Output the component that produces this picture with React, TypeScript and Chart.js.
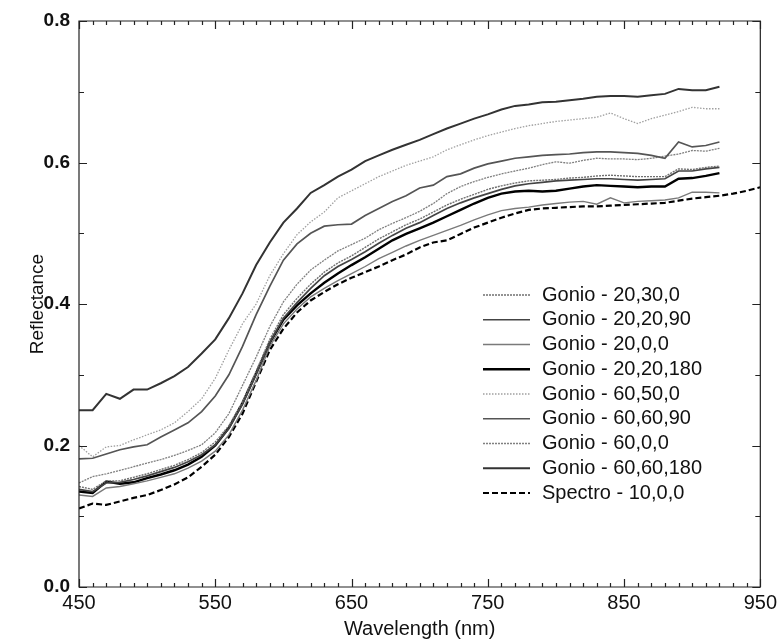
import { useEffect, useRef } from 'react';
import { Chart, registerables } from 'chart.js';

Chart.register(...registerables);

const wavelengths = [450, 460, 470, 480, 490, 500, 510, 520, 530, 540, 550, 560, 570, 580, 590, 600, 610, 620, 630, 640, 650, 660, 670, 680, 690, 700, 710, 720, 730, 740, 750, 760, 770, 780, 790, 800, 810, 820, 830, 840, 850, 860, 870, 880, 890, 900, 910, 920];
const spectroWavelengths = [450, 460, 470, 480, 490, 500, 510, 520, 530, 540, 550, 560, 570, 580, 590, 600, 610, 620, 630, 640, 650, 660, 670, 680, 690, 700, 710, 720, 730, 740, 750, 760, 770, 780, 790, 800, 810, 820, 830, 840, 850, 860, 870, 880, 890, 900, 910, 920, 930, 940, 950];

const xTickValues = [450, 550, 650, 750, 850, 950];
const yTickValues = [0, 0.2, 0.4, 0.6, 0.8];

const gonio20_30_0 = [0.142, 0.138, 0.150, 0.150, 0.155, 0.160, 0.166, 0.172, 0.180, 0.190, 0.205, 0.228, 0.262, 0.305, 0.350, 0.385, 0.408, 0.428, 0.445, 0.458, 0.468, 0.480, 0.492, 0.502, 0.512, 0.520, 0.530, 0.540, 0.548, 0.555, 0.562, 0.567, 0.571, 0.574, 0.575, 0.576, 0.578, 0.579, 0.581, 0.582, 0.581, 0.580, 0.580, 0.580, 0.591, 0.590, 0.593, 0.595];
const gonio20_20_90 = [0.138, 0.135, 0.147, 0.148, 0.152, 0.157, 0.163, 0.169, 0.177, 0.187, 0.201, 0.224, 0.258, 0.300, 0.345, 0.380, 0.402, 0.422, 0.440, 0.453, 0.463, 0.474, 0.486, 0.497, 0.507, 0.515, 0.525, 0.535, 0.543, 0.550, 0.556, 0.562, 0.567, 0.570, 0.572, 0.574, 0.575, 0.576, 0.577, 0.577, 0.576, 0.575, 0.576, 0.577, 0.588, 0.588, 0.591, 0.593];
const gonio20_0_0 = [0.130, 0.128, 0.140, 0.142, 0.146, 0.150, 0.155, 0.160, 0.168, 0.178, 0.192, 0.215, 0.250, 0.292, 0.340, 0.372, 0.393, 0.410, 0.422, 0.433, 0.443, 0.453, 0.464, 0.473, 0.482, 0.490, 0.497, 0.504, 0.511, 0.519, 0.526, 0.532, 0.535, 0.537, 0.540, 0.542, 0.544, 0.545, 0.541, 0.550, 0.543, 0.545, 0.546, 0.547, 0.550, 0.558, 0.558, 0.557];
const gonio20_20_180 = [0.135, 0.133, 0.149, 0.146, 0.148, 0.154, 0.159, 0.165, 0.173, 0.184, 0.200, 0.225, 0.260, 0.302, 0.345, 0.378, 0.398, 0.415, 0.430, 0.443, 0.455, 0.466, 0.478, 0.490, 0.499, 0.507, 0.515, 0.524, 0.533, 0.542, 0.550, 0.556, 0.559, 0.560, 0.559, 0.560, 0.563, 0.566, 0.568, 0.567, 0.566, 0.565, 0.566, 0.566, 0.577, 0.578, 0.581, 0.585];
const gonio60_50_0 = [0.200, 0.184, 0.198, 0.200, 0.208, 0.215, 0.222, 0.232, 0.248, 0.266, 0.295, 0.335, 0.372, 0.400, 0.440, 0.471, 0.498, 0.516, 0.530, 0.550, 0.560, 0.570, 0.580, 0.588, 0.596, 0.602, 0.608, 0.618, 0.625, 0.632, 0.638, 0.643, 0.648, 0.652, 0.655, 0.658, 0.660, 0.662, 0.664, 0.670, 0.662, 0.655, 0.662, 0.667, 0.672, 0.678, 0.676, 0.676];
const gonio60_60_90 = [0.181, 0.182, 0.188, 0.194, 0.198, 0.201, 0.212, 0.222, 0.232, 0.248, 0.270, 0.300, 0.340, 0.385, 0.425, 0.462, 0.485, 0.500, 0.510, 0.512, 0.513, 0.525, 0.535, 0.545, 0.553, 0.564, 0.568, 0.580, 0.584, 0.592, 0.598, 0.602, 0.606, 0.608, 0.610, 0.611, 0.612, 0.614, 0.615, 0.615, 0.614, 0.613, 0.610, 0.606, 0.629, 0.622, 0.624, 0.629];
const gonio60_0_0 = [0.147, 0.156, 0.160, 0.165, 0.170, 0.175, 0.180, 0.186, 0.193, 0.201, 0.218, 0.245, 0.285, 0.325, 0.368, 0.403, 0.428, 0.448, 0.462, 0.475, 0.484, 0.493, 0.505, 0.514, 0.522, 0.531, 0.542, 0.556, 0.566, 0.573, 0.579, 0.584, 0.588, 0.592, 0.597, 0.601, 0.599, 0.603, 0.606, 0.605, 0.605, 0.604, 0.606, 0.609, 0.612, 0.617, 0.616, 0.620];
const gonio60_60_180 = [0.250, 0.250, 0.273, 0.266, 0.279, 0.279, 0.288, 0.298, 0.311, 0.330, 0.350, 0.380, 0.415, 0.455, 0.487, 0.515, 0.535, 0.557, 0.568, 0.580, 0.590, 0.602, 0.610, 0.618, 0.625, 0.632, 0.640, 0.648, 0.655, 0.662, 0.668, 0.675, 0.680, 0.682, 0.685, 0.686, 0.688, 0.690, 0.693, 0.694, 0.694, 0.693, 0.695, 0.697, 0.704, 0.702, 0.702, 0.707];
const spectro10_0_0 = [0.111, 0.118, 0.116, 0.121, 0.126, 0.130, 0.137, 0.145, 0.155, 0.170, 0.187, 0.212, 0.245, 0.290, 0.335, 0.365, 0.388, 0.405, 0.417, 0.428, 0.437, 0.445, 0.453, 0.462, 0.470, 0.480, 0.487, 0.490, 0.499, 0.508, 0.515, 0.522, 0.528, 0.533, 0.535, 0.536, 0.537, 0.538, 0.538, 0.539, 0.540, 0.541, 0.542, 0.543, 0.546, 0.549, 0.551, 0.553, 0.556, 0.560, 0.565];

const seriesLabels = [
  'Gonio - 20,30,0',
  'Gonio - 20,20,90',
  'Gonio - 20,0,0',
  'Gonio - 20,20,180',
  'Gonio - 60,50,0',
  'Gonio - 60,60,90',
  'Gonio - 60,0,0',
  'Gonio - 60,60,180',
  'Spectro - 10,0,0',
];

const FONT = "'Liberation Sans', Arial, Helvetica, sans-serif";

const framePlugin = {
  id: 'frameAndLegend',
  afterDraw(chart: any) {
    const { ctx, chartArea, scales } = chart;
    const { left, right, top, bottom } = chartArea;
    const xs = scales.x;
    const ys = scales.y;
    ctx.save();
    ctx.strokeStyle = '#222';
    ctx.lineWidth = 1.2;
    ctx.setLineDash([]);
    ctx.beginPath();
    ctx.rect(left, top, right - left, bottom - top);
    ctx.stroke();
    ctx.beginPath();
    for (let v = 450; v <= 950; v += 10) {
      const px = Math.round(xs.getPixelForValue(v)) + 0.5;
      const len = (v - 450) % 100 === 0 ? 8 : 4;
      ctx.moveTo(px, bottom);
      ctx.lineTo(px, bottom - len);
      ctx.moveTo(px, top);
      ctx.lineTo(px, top + len);
    }
    for (let k = 0; k <= 8; k++) {
      const py = Math.round(ys.getPixelForValue(k / 10)) + 0.5;
      const len = k % 2 === 0 ? 8 : 5;
      ctx.moveTo(left, py);
      ctx.lineTo(left + len, py);
      ctx.moveTo(right, py);
      ctx.lineTo(right - len, py);
    }
    ctx.stroke();

    // legend
    const lx0 = left + 404;
    const lx1 = left + 451;
    const tx = left + 463;
    const y0 = top + 274;
    const dy = 24.75;
    ctx.font = `20px ${FONT}`;
    ctx.textBaseline = 'middle';
    ctx.textAlign = 'left';
    chart.data.datasets.forEach((ds: any, i: number) => {
      const yy = y0 + i * dy;
      ctx.beginPath();
      ctx.strokeStyle = ds.borderColor;
      ctx.lineWidth = ds.borderWidth;
      ctx.setLineDash(ds.borderDash || []);
      ctx.moveTo(lx0, yy);
      ctx.lineTo(lx1, yy);
      ctx.stroke();
      ctx.setLineDash([]);
      ctx.fillStyle = '#111';
      ctx.fillText(ds.label, tx, yy);
    });
    ctx.restore();
  },
};

export default function App() {
  const ref = useRef<HTMLCanvasElement>(null);
  useEffect(() => {
    if (!ref.current) return;
    const ys = [gonio20_30_0, gonio20_20_90, gonio20_0_0, gonio20_20_180, gonio60_50_0, gonio60_60_90, gonio60_0_0, gonio60_60_180, spectro10_0_0];
    const styles = [
      { color: '#707070', width: 1.4, dash: [2, 1] },
      { color: '#444444', width: 1.7, dash: [] },
      { color: '#7a7a7a', width: 1.4, dash: [] },
      { color: '#000000', width: 2.4, dash: [] },
      { color: '#a0a0a0', width: 1.3, dash: [1.5, 1.5] },
      { color: '#555555', width: 1.7, dash: [] },
      { color: '#808080', width: 1.3, dash: [2, 1] },
      { color: '#333333', width: 2.0, dash: [] },
      { color: '#000000', width: 2.2, dash: [6, 3] },
    ];
    const datasets = seriesLabels.map((label, i) => {
      const xv = i === 8 ? spectroWavelengths : wavelengths;
      return {
        label,
        data: xv.map((x, j) => ({ x, y: ys[i][j] })),
        borderColor: styles[i].color,
        borderWidth: styles[i].width,
        borderDash: styles[i].dash,
        pointRadius: 0,
        fill: false,
        tension: 0,
      };
    });
    const tickFont = { family: FONT, size: 20 };
    const chart = new Chart(ref.current, {
      type: 'line',
      data: { datasets },
      options: {
        animation: false,
        responsive: false,
        layout: { padding: { left: 0, right: 19, top: 21, bottom: 0 } },
        plugins: { legend: { display: false }, tooltip: { enabled: false } },
        scales: {
          x: {
            type: 'linear',
            min: 450,
            max: 950,
            afterBuildTicks: (s: any) => { s.ticks = xTickValues.map((v) => ({ value: v })); },
            afterFit: (s: any) => { s.height = 54; },
            ticks: { font: tickFont, color: '#111', padding: 4, maxRotation: 0, autoSkip: false, callback: (v: any) => String(v) },
            grid: { display: false, drawTicks: false },
            border: { display: false },
            title: { display: true, text: 'Wavelength (nm)', font: { family: FONT, size: 20 }, color: '#111', padding: { top: 0, bottom: 0 } },
          },
          y: {
            type: 'linear',
            min: 0,
            max: 0.8,
            afterBuildTicks: (s: any) => { s.ticks = yTickValues.map((v) => ({ value: v })); },
            afterFit: (s: any) => { s.width = 79; },
            ticks: { font: { family: FONT, size: 19, weight: 'bold' }, color: '#111', padding: 9, autoSkip: false, callback: (v: any) => Number(v).toFixed(1) },
            grid: { display: false, drawTicks: false },
            border: { display: false },
            title: { display: true, text: 'Reflectance', font: { family: FONT, size: 19 }, color: '#111', padding: { top: 26, bottom: 0 } },
          },
        },
      } as any,
      plugins: [framePlugin],
    });
    return () => chart.destroy();
  }, []);
  return (
    <div style={{ position: 'absolute', left: 0, top: 0, width: 781, height: 641, background: '#fff' }}>
      <canvas ref={ref} width={781} height={641} style={{ display: 'block' }} />
    </div>
  );
}
